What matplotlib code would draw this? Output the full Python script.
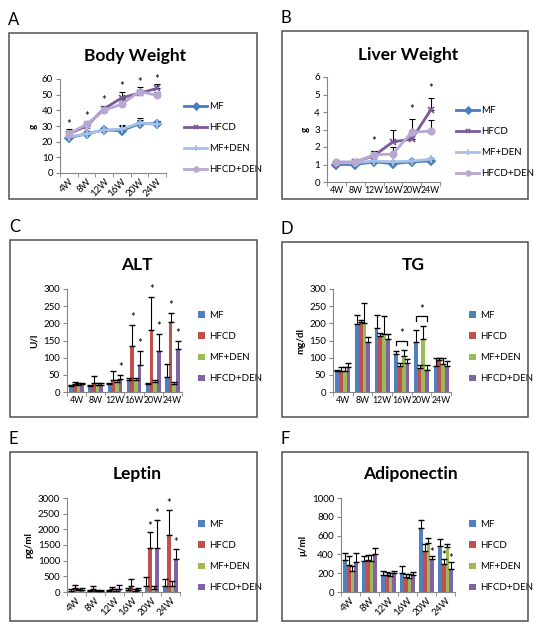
import matplotlib
matplotlib.use("Agg")
import matplotlib.pyplot as plt
from matplotlib.patches import Rectangle
import numpy as np

plt.rcParams['font.family'] = ['Lato', 'DejaVu Sans']

W, H = 534, 622

weeks = ['4W', '8W', '12W', '16W', '20W', '24W']
groups = ['MF', 'HFCD', 'MF+DEN', 'HFCD+DEN']

# body weight (g)
bw_mf = [22.5, 25, 27.5, 27, 31.5, 31.5]
bw_mf_err = [1.5, 1.5, 1.5, 3.5, 3.5, 2]
bw_hfcd = [25, 30, 41, 48, 51, 54]
bw_hfcd_err = [3, 2, 2, 4, 2, 3]
bw_mfden = [23, 25, 27.5, 28, 32, 31]
bw_mfden_err = [1, 1, 1, 2, 2, 2]
bw_hfcdden = [25, 31, 40, 44, 52, 49.5]
bw_hfcdden_err = [2, 2, 2, 3, 3, 2]
bw_stars = [0, 1, 2, 3, 4, 5]

# liver weight (g)
lw_mf = [1.0, 1.0, 1.15, 1.05, 1.15, 1.2]
lw_mf_err = [0.1, 0.1, 0.1, 0.1, 0.1, 0.15]
lw_hfcd = [1.05, 1.15, 1.5, 2.3, 2.45, 4.1]
lw_hfcd_err = [0.1, 0.15, 0.25, 0.65, 0.4, 0.7]
lw_mfden = [1.1, 1.1, 1.2, 1.15, 1.2, 1.3]
lw_mfden_err = [0.05, 0.05, 0.05, 0.05, 0.05, 0.1]
lw_hfcdden = [1.15, 1.15, 1.55, 1.6, 2.85, 2.9]
lw_hfcdden_err = [0.05, 0.1, 0.2, 0.4, 0.75, 0.65]
lw_stars = [2, 4, 5]

# ALT (U/l)
alt_mf = [17, 17, 22, 35, 22, 45]
alt_mf_err = [3, 3, 3, 7, 3, 37]
alt_hfcd = [22, 25, 35, 133, 182, 205]
alt_hfcd_err = [6, 22, 27, 62, 96, 25]
alt_mfden = [20, 20, 30, 35, 28, 22]
alt_mfden_err = [5, 7, 5, 5, 7, 8]
alt_hfcdden = [22, 20, 38, 80, 120, 125]
alt_hfcdden_err = [4, 7, 12, 40, 48, 23]
alt_stars = [(2, 3), (3, 1), (3, 3), (4, 1), (4, 3), (5, 1), (5, 3)]

# TG (mg/dl)
tg_mf = [62, 198, 185, 110, 145, 75]
tg_mf_err = [3, 27, 40, 8, 35, 25]
tg_hfcd = [62, 205, 162, 75, 70, 92]
tg_hfcd_err = [10, 5, 10, 10, 10, 8]
tg_mfden = [62, 200, 170, 105, 155, 82]
tg_mfden_err = [10, 58, 50, 17, 37, 18]
tg_hfcdden = [72, 145, 155, 85, 65, 75]
tg_hfcdden_err = [13, 15, 15, 10, 13, 15]
tg_brackets = [3, 4]

# leptin (pg/ml)
lep_mf = [40, 30, 30, 60, 200, 200]
lep_mf_err = [40, 20, 30, 70, 270, 220]
lep_hfcd = [120, 80, 100, 200, 1400, 1830]
lep_hfcd_err = [110, 100, 70, 200, 500, 800]
lep_mfden = [50, 30, 40, 40, 100, 180]
lep_mfden_err = [50, 30, 40, 40, 80, 170]
lep_hfcdden = [70, 30, 80, 60, 1400, 1050]
lep_hfcdden_err = [50, 40, 140, 70, 900, 330]
lep_stars = [(4, 1), (4, 3), (5, 1), (5, 3)]

# adiponectin
adi_mf = [340, 330, 180, 200, 680, 490]
adi_mf_err = [80, 50, 40, 80, 90, 70]
adi_hfcd = [290, 340, 180, 160, 440, 300]
adi_hfcd_err = [90, 50, 30, 30, 70, 50]
adi_mfden = [220, 330, 170, 150, 520, 480]
adi_mfden_err = [60, 60, 30, 40, 50, 30]
adi_hfcdden = [320, 400, 200, 180, 350, 250]
adi_hfcdden_err = [100, 70, 20, 30, 30, 70]
adi_stars = [(4, 3), (5, 1), (5, 3)]

line_colors = ['#4A7EBB', '#7D5A9C', '#A6C0E6', '#B8A8D2']
line_markers = ['D', 'x', '+', 'o']
bar_colors = ['#4F81BD', '#C0504D', '#9BBB59', '#8064A2']
gray = '#868686'

fig = plt.figure(figsize=(W / 100, H / 100), dpi=100)


def px_axes(x0, y0, x1, y1):
    return fig.add_axes([x0 / W, 1 - y1 / H, (x1 - x0) / W, (y1 - y0) / H])


def panel_box(x0, y0, x1, y1, letter):
    fig.add_artist(Rectangle((x0 / W, 1 - y1 / H), (x1 - x0) / W, (y1 - y0) / H,
                             transform=fig.transFigure, fill=False, ec='#505050', lw=1.1))
    fig.text((x0 - 1) / W, 1 - (y0 - 5) / H, letter, fontsize=12, va='bottom', ha='left')


def style_axes(ax, ymax, step, ylabel, title, title_xy, rotate):
    x = np.arange(len(weeks))
    ax.set_xlim(-0.5, len(weeks) - 0.5)
    ax.set_ylim(0, ymax)
    ax.set_yticks(np.arange(0, ymax + step / 2, step))
    ax.set_xticks(x)
    ax.set_xticks(np.arange(-0.5, len(weeks)), minor=True)
    if rotate:
        ax.set_xticklabels(weeks, rotation=45, ha='right', rotation_mode='anchor')
        ax.tick_params(axis='x', which='major', length=0, labelsize=7, pad=3)
    else:
        ax.set_xticklabels(weeks)
        ax.tick_params(axis='x', which='major', length=0, labelsize=6.3, pad=3)
    ax.tick_params(axis='x', which='minor', length=3, color=gray, direction='out')
    ax.tick_params(axis='y', length=3, color=gray, labelsize=7, pad=2)
    for s in ['top', 'right']:
        ax.spines[s].set_visible(False)
    for s in ['left', 'bottom']:
        ax.spines[s].set_color(gray)
        ax.spines[s].set_linewidth(0.8)
    ax.set_ylabel(ylabel, fontsize=7, fontweight='bold', labelpad=3)
    fig.text(title_xy[0] / W, 1 - title_xy[1] / H, title, fontsize=12.5,
             fontweight='bold', ha='center', va='center')


def line_panel(ax, series, errs, stars, ymax, star_pad):
    x = np.arange(len(weeks))
    for i in range(4):
        y = np.array(series[i])
        e = np.array(errs[i])
        ax.errorbar(x, y, yerr=[np.zeros_like(e), e], fmt='none', ecolor='black',
                    elinewidth=0.8, capsize=2.5, capthick=0.8, zorder=2)
    for i in range(4):
        ax.plot(x, series[i], color=line_colors[i], marker=line_markers[i], lw=2,
                ms=4.5 if line_markers[i] != '+' else 5.5, mew=1.3, label=groups[i], zorder=3)
    for k in stars:
        top = max(series[i][k] + errs[i][k] for i in range(4))
        ax.text(k, top + star_pad, '*', ha='center', va='center', fontsize=8, clip_on=False)


def bar_panel(ax, series, errs, ymax):
    x = np.arange(len(weeks))
    bw = 0.19
    for i in range(4):
        xi = x + (i - 1.5) * bw
        e = np.array(errs[i])
        ax.bar(xi, series[i], width=bw, color=bar_colors[i], label=groups[i], zorder=2)
        ax.errorbar(xi, series[i], yerr=[np.zeros_like(e), e], fmt='none', ecolor='black',
                    elinewidth=0.8, capsize=2.5, capthick=1.0, zorder=3)
    return bw


def bar_stars(ax, series, errs, stars, bw, pad):
    for k, i in stars:
        ax.text(k + (i - 1.5) * bw, series[i][k] + errs[i][k] + pad, '*', ha='center',
                va='center', fontsize=8, clip_on=False)


def add_legend(ax, x, y, bars):
    if bars:
        ax.legend(loc='upper left', bbox_to_anchor=(x / W, 1 - y / H), bbox_transform=fig.transFigure,
                  frameon=False, fontsize=7, handlelength=0.7, handleheight=0.7,
                  handletextpad=0.4, labelspacing=1.25, borderpad=0, borderaxespad=0)
    else:
        ax.legend(loc='upper left', bbox_to_anchor=(x / W, 1 - y / H), bbox_transform=fig.transFigure,
                  frameon=False, fontsize=7, handlelength=2.4, handletextpad=0.2, markerscale=0.75,
                  labelspacing=1.25, borderpad=0, borderaxespad=0)


# A  body weight
panel_box(9, 33, 257, 199, 'A')
ax = px_axes(60, 79, 166, 173)
style_axes(ax, 60, 10, 'g', 'Body Weight', (135, 56), True)
line_panel(ax, [bw_mf, bw_hfcd, bw_mfden, bw_hfcdden],
           [bw_mf_err, bw_hfcd_err, bw_mfden_err, bw_hfcdden_err], bw_stars, 60, 3)
add_legend(ax, 184, 102, False)

# B  liver weight
panel_box(282, 31, 528, 199, 'B')
ax = px_axes(327, 77, 440, 182)
style_axes(ax, 6, 1, 'g', 'Liver Weight', (408, 55), False)
line_panel(ax, [lw_mf, lw_hfcd, lw_mfden, lw_hfcdden],
           [lw_mf_err, lw_hfcd_err, lw_mfden_err, lw_hfcdden_err], lw_stars, 6, 0.55)
add_legend(ax, 456, 106, False)

# C  ALT
panel_box(10, 240, 257, 417, 'C')
ax = px_axes(67, 289, 182, 392)
style_axes(ax, 300, 50, 'U/l', 'ALT', (137, 265), False)
s = [alt_mf, alt_hfcd, alt_mfden, alt_hfcdden]
e = [alt_mf_err, alt_hfcd_err, alt_mfden_err, alt_hfcdden_err]
bw = bar_panel(ax, s, e, 300)
bar_stars(ax, s, e, alt_stars, bw, 22)
add_legend(ax, 198, 311, True)

# D  TG
panel_box(282, 242, 528, 417, 'D')
ax = px_axes(333, 289, 451, 392)
style_axes(ax, 300, 50, 'mg/dl', 'TG', (413, 265), False)
s = [tg_mf, tg_hfcd, tg_mfden, tg_hfcdden]
e = [tg_mf_err, tg_hfcd_err, tg_mfden_err, tg_hfcdden_err]
bw = bar_panel(ax, s, e, 300)
for k in tg_brackets:
    top = max(s[i][k] + e[i][k] for i in range(4)) + 28
    xl, xr = k - 1.5 * bw, k + 1.5 * bw
    ax.plot([xl, xl, xr, xr], [top - 12, top, top, top - 12], color='black', lw=0.9, zorder=4)
    ax.text(k, top + 20, '*', ha='center', va='center', fontsize=8)
add_legend(ax, 469, 311, True)

# E  leptin
panel_box(10, 452, 257, 621, 'E')
ax = px_axes(67, 498, 180, 592)
style_axes(ax, 3000, 500, 'pg/ml', 'Leptin', (137, 474), True)
s = [lep_mf, lep_hfcd, lep_mfden, lep_hfcdden]
e = [lep_mf_err, lep_hfcd_err, lep_mfden_err, lep_hfcdden_err]
bw = bar_panel(ax, s, e, 3000)
bar_stars(ax, s, e, lep_stars, bw, 200)
add_legend(ax, 198, 520, True)

# F  adiponectin
panel_box(282, 452, 528, 621, 'F')
ax = px_axes(341, 498, 455, 592)
style_axes(ax, 1000, 200, 'μ/ml', 'Adiponectin', (410, 474), True)
s = [adi_mf, adi_hfcd, adi_mfden, adi_hfcdden]
e = [adi_mf_err, adi_hfcd_err, adi_mfden_err, adi_hfcdden_err]
bw = bar_panel(ax, s, e, 1000)
bar_stars(ax, s, e, adi_stars, bw, 40)
add_legend(ax, 469, 520, True)

fig.savefig('out.png', dpi=100)
